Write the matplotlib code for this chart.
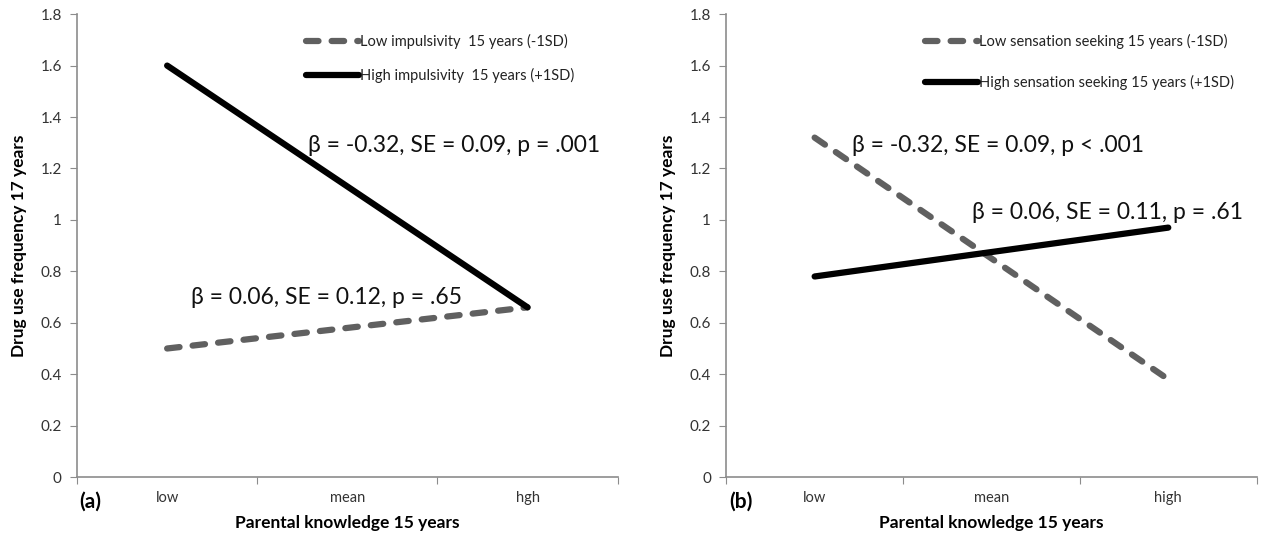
import matplotlib
matplotlib.use("Agg")
import matplotlib.pyplot as plt

plt.rcParams['font.family'] = ['Lato', 'DejaVu Sans']

# data
cats_a = ["low", "mean", "hgh"]
cats_b = ["low", "mean", "high"]
ends = [0, 2]  # lines drawn from low to high

low_imp = [0.50, 0.66]
high_imp = [1.60, 0.66]
low_ss = [1.32, 0.38]
high_ss = [0.78, 0.97]

labels_a = ["Low impulsivity  15 years (-1SD)", "High impulsivity  15 years (+1SD)"]
labels_b = ["Low sensation seeking 15 years (-1SD)", "High sensation seeking 15 years (+1SD)"]

notes_a = [("β = -0.32, SE = 0.09, p = .001", 0.78, 1.29), ("β = 0.06, SE = 0.12, p = .65", 0.13, 0.70)]
notes_b = [("β = -0.32, SE = 0.09, p < .001", 0.21, 1.29), ("β = 0.06, SE = 0.11, p = .61", 0.89, 1.03)]

gray = "#606060"
axis_col = "#8c8c8c"

fig = plt.figure(figsize=(12.63, 5.44), dpi=100)
ax1 = fig.add_axes([0.061, 0.123, 0.428, 0.851])
ax2 = fig.add_axes([0.575, 0.123, 0.420, 0.851])


def style(ax, cats, tag):
    ax.set_xlim(-0.5, 2.5)
    ax.set_ylim(0, 1.8)
    ax.set_yticks([0, 0.2, 0.4, 0.6, 0.8, 1.0, 1.2, 1.4, 1.6, 1.8])
    ax.set_yticklabels(["0", "0.2", "0.4", "0.6", "0.8", "1", "1.2", "1.4", "1.6", "1.8"])
    ax.set_xticks([-0.5, 0.5, 1.5, 2.5])
    ax.set_xticklabels([])
    ax.set_xticks([0, 1, 2], minor=True)
    ax.set_xticklabels(cats, minor=True)
    ax.tick_params(axis='x', which='minor', length=0, pad=10, labelsize=10.5, colors="#333333")
    ax.tick_params(axis='x', which='major', length=5, color=axis_col)
    ax.tick_params(axis='y', length=5, color=axis_col, labelsize=11, labelcolor="#333333", pad=6)
    for s in ["top", "right"]:
        ax.spines[s].set_visible(False)
    for s in ["left", "bottom"]:
        ax.spines[s].set_color(axis_col)
        ax.spines[s].set_linewidth(1.2)
    ax.set_ylabel("Drug use frequency 17 years", fontsize=12.5, fontweight='bold', labelpad=10)
    ax.set_xlabel("Parental knowledge 15 years", fontsize=12.5, fontweight='bold', labelpad=7)
    ax.text(0.005, -0.052, tag, transform=ax.transAxes, fontsize=15, fontweight='bold', va='center')


def draw(ax, low, high, labels, notes, leg_x, gap):
    ax.plot(ends, low, color=gray, lw=4.5, dashes=(2, 2.1), dash_capstyle='round', label=labels[0])
    ax.plot(ends, high, color="black", lw=4.5, solid_capstyle='round', label=labels[1])
    leg = ax.legend(loc='upper left', bbox_to_anchor=(leg_x, 0.985), frameon=False, fontsize=10.5,
                    handlelength=3.6, handletextpad=0.1, labelspacing=gap)
    for t in leg.get_texts():
        t.set_color("#222222")
    for txt, x, y in notes:
        ax.text(x, y, txt, fontsize=16.5, va='center', ha='left', color="#111111")


style(ax1, cats_a, "(a)")
style(ax2, cats_b, "(b)")
draw(ax1, low_imp, high_imp, labels_a, notes_a, 0.40, 1.3)
draw(ax2, low_ss, high_ss, labels_b, notes_b, 0.35, 1.75)

fig.savefig("out.png", dpi=100)
